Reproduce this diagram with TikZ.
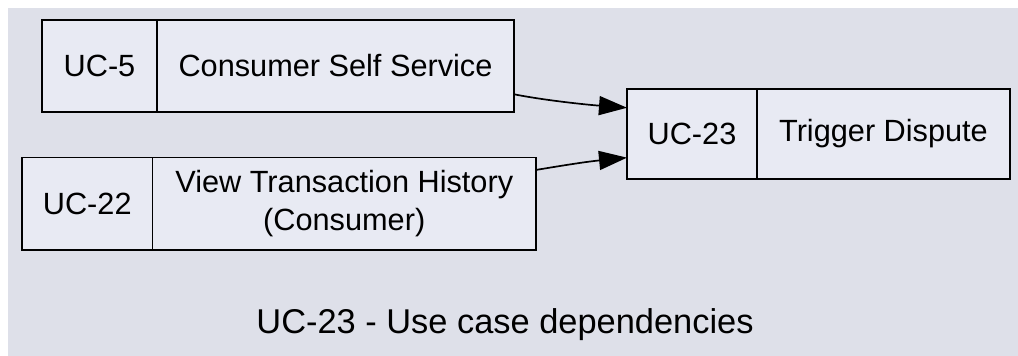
\documentclass[tikz,border=0pt]{standalone}
\usepackage{fontspec}
\setmainfont{Liberation Sans}
\usepackage{tikz}
\usetikzlibrary{arrows,arrows.meta,%
                positioning}
\definecolor{bgcol}{RGB}{222,224,233}
\definecolor{cellcol}{RGB}{232,234,243}

\begin{document}
\begin{tikzpicture}[x=1pt,y=-1pt,
  cell/.style={draw, fill=cellcol, line width=1.7pt, inner sep=0pt, outer sep=0pt,
               align=center, font=\fontsize{30.7}{38}\selectfont},
  dep/.style={line width=1.7pt, -{Triangle[length=28pt,width=19pt]}}]
\useasboundingbox (0,0) rectangle (1018,356);
\fill[bgcol] (8,8) rectangle (1018,356);
% use cases
\node[cell, minimum width=115pt, minimum height=92pt] (uc5id) at (99.5,66) {UC-5};
\node[cell, minimum width=357pt, minimum height=92pt, right=0pt of uc5id] (uc5name) {Consumer Self Service};
\node[cell, minimum width=130.5pt, minimum height=92.5pt] (uc22id) at (87.25,203.75) {UC-22};
\node[cell, minimum width=383.5pt, minimum height=92.5pt, right=0pt of uc22id] (uc22name) {View Transaction History\\(Consumer)};
\node[cell, minimum width=130pt, minimum height=90pt] (uc23id) at (692,134) {UC-23};
\node[cell, minimum width=253pt, minimum height=90pt, right=0pt of uc23id] (uc23name) {Trigger Dispute};
% dependencies
\draw[dep] (uc5name.-9.8) .. controls +(30,6) and +(-40,-3) .. (uc23id.158.6);
\draw[dep] (uc22name.10.3) .. controls +(30,-5) and +(-40,4) .. (uc23id.-160.5);
\node[font=\fontsize{34.4}{40}\selectfont, anchor=base] (title) at (505,333) {UC-23 - Use case dependencies};
\end{tikzpicture}
\end{document}
